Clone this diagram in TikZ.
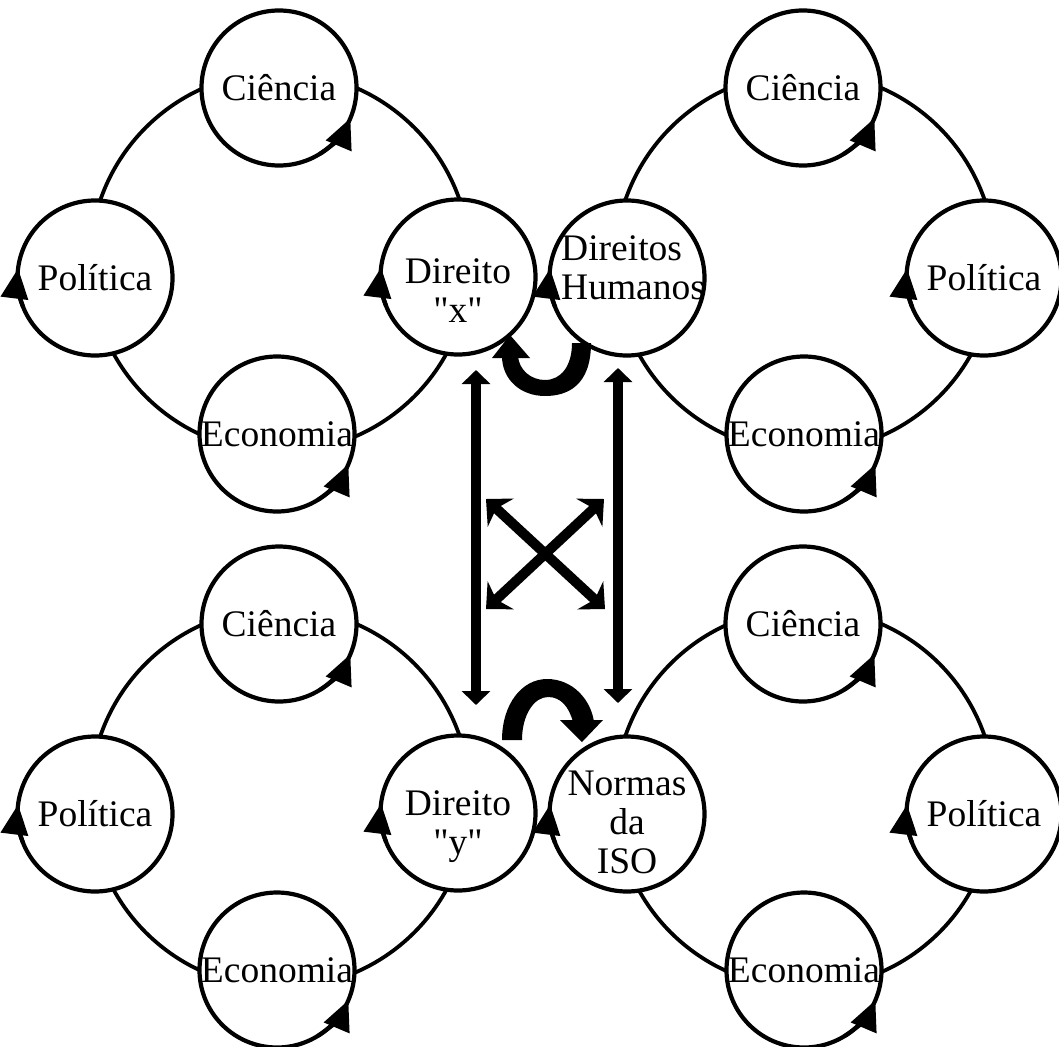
\documentclass[tikz,border=0pt]{standalone}
\usepackage{fontspec}
\setmainfont{Liberation Serif}[Ligatures=TeXOff]
\usetikzlibrary{arrows.meta}

% arrow on the lower right of a small circle, running up-right
\newcommand\cycarrowR[1]{\draw[cyc] (#1.center) ++(58:77.5) arc[start angle=58,end angle=23,radius=77.5];}
% arrow on the left of a small circle, running upwards
\newcommand\cycarrowL[1]{\draw[cyc] (#1.center) ++(158:77.5) arc[start angle=158,end angle=187,radius=77.5];}

\begin{document}
\begin{tikzpicture}[x=1pt,y=-1pt,
  ringline/.style={line width=3.8pt},
  circ/.style={circle,draw,line width=4.2pt,fill=white,minimum size=155pt,inner sep=0pt,
               font=\fontsize{37.5}{39}\selectfont},
  lbl/.style={font=\fontsize{37.5}{39}\selectfont,inner sep=0pt},
  cyc/.style={line width=4.2pt,-{Triangle[length=30pt,width=27pt]}},
  linkarrow/.style={line width=9.5pt,{Triangle[length=14pt,width=28pt]}-{Triangle[length=14pt,width=28pt]}},
  crossarrow/.style={line width=10pt,{Stealth[length=20pt,width=38pt,inset=6pt]}-{Stealth[length=20pt,width=38pt,inset=6pt]}},
  curlarrow/.style={fill=black}
]
\useasboundingbox (0,0) rectangle (1059,1046);

% ---------- upper left cycle ----------
\draw[ringline] (280,262) circle[radius=190];
\node[circ] (tlc) at (279,88) {Ciência};
\node[circ] (tlp) at (95,278) {Política};
\node[circ] (tld) at (458,277) {};
\node[lbl,align=center] (tld-t) at (458,291) {Direito\\"x"};
\node[circ] (tle) at (277,434) {Economia};
\cycarrowR{tlc} \cycarrowR{tle} \cycarrowL{tlp} \cycarrowL{tld}

% ---------- upper right cycle ----------
\draw[ringline] (805,262) circle[radius=190];
\node[circ] (trc) at (803,88) {Ciência};
\node[circ] (trh) at (627,278) {};
\node[lbl,align=left,anchor=west] (trh-t) at (561,268) {Direitos\\Humanos};
\node[circ] (trp) at (984,278) {Política};
\node[circ] (tre) at (804,434) {Economia};
\cycarrowR{trc} \cycarrowR{tre} \cycarrowL{trh} \cycarrowL{trp}

% ---------- lower left cycle ----------
\draw[ringline] (280,798) circle[radius=190];
\node[circ] (blc) at (279,624) {Ciência};
\node[circ] (blp) at (95,814) {Política};
\node[circ] (bld) at (458,813) {};
\node[lbl,align=center] (bld-t) at (458,827) {Direito\\"y"};
\node[circ] (ble) at (277,970) {Economia};
\cycarrowR{blc} \cycarrowR{ble} \cycarrowL{blp} \cycarrowL{bld}

% ---------- lower right cycle ----------
\draw[ringline] (805,798) circle[radius=190];
\node[circ] (brc) at (803,624) {Ciência};
\node[circ] (brn) at (627,814) {};
\node[lbl,align=center] (brn-t) at (627,822) {Normas\\da\\ISO};
\node[circ] (brp) at (984,814) {Política};
\node[circ] (bre) at (804,970) {Economia};
\cycarrowR{brc} \cycarrowR{bre} \cycarrowL{brn} \cycarrowL{brp}

% ---------- links between the cycles ----------
\coordinate (l-top) at (476,370);
\coordinate (l-bot) at (476,705);
\coordinate (r-top) at (618,368);
\coordinate (r-bot) at (618,703);
\draw[linkarrow] (l-top) -- (l-bot);
\draw[linkarrow] (r-top) -- (r-bot);

\coordinate (x-nw) at (486,499);
\coordinate (x-se) at (605,609);
\coordinate (x-ne) at (604,499);
\coordinate (x-sw) at (486,609);
\draw[crossarrow] (x-nw) -- (x-se);
\draw[crossarrow] (x-ne) -- (x-sw);

% curved arrow from Direitos Humanos back to Direito "x"
\fill[curlarrow] (591,343) .. controls (591,387) and (566,396) .. (545,396)
  .. controls (521,396) and (502,380) .. (502,356)
  -- (518,356) .. controls (519,370) and (531,380) .. (545,380)
  .. controls (561,380) and (572,366) .. (572,343) -- cycle;
\fill[curlarrow] (492,358) -- (510,335) -- (530,358) -- cycle;

% curved arrow from Direito "y" over to Normas da ISO
\fill[curlarrow] (502,740) .. controls (502,704) and (522,679) .. (547,679)
  .. controls (573,679) and (591,700) .. (594,722)
  -- (573,722) .. controls (569,707) and (561,697) .. (548,697)
  .. controls (534,697) and (522,715) .. (522,740) -- cycle;
\fill[curlarrow] (560,720) -- (582,742) -- (603,720) -- cycle;
\end{tikzpicture}
\end{document}
